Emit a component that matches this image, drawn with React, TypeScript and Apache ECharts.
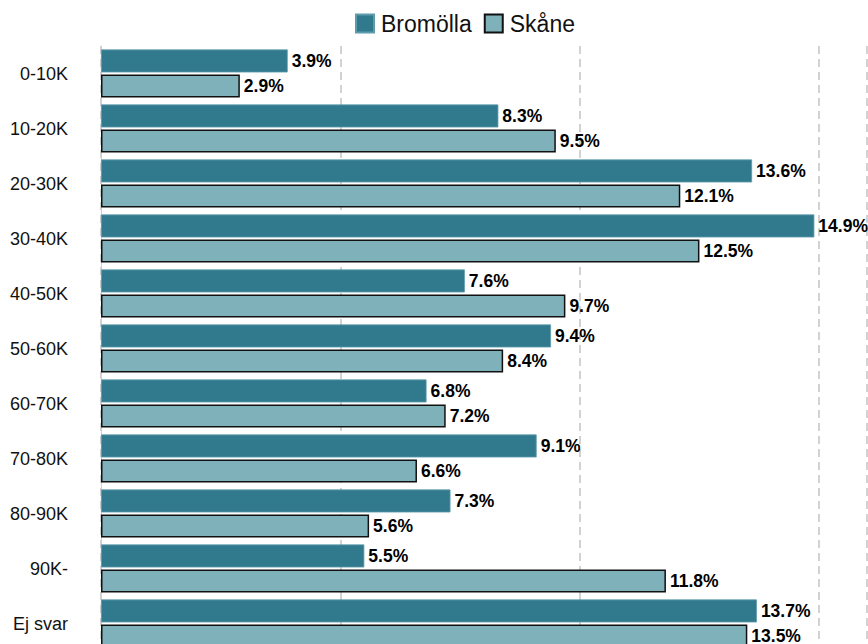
import React, { useEffect, useRef } from "react";
import * as echarts from "echarts";

const categories = ["0-10K", "10-20K", "20-30K", "30-40K", "40-50K", "50-60K", "60-70K", "70-80K", "80-90K", "90K-", "Ej svar"];
const bromolla = [3.9, 8.3, 13.6, 14.9, 7.6, 9.4, 6.8, 9.1, 7.3, 5.5, 13.7];
const skane = [2.9, 9.5, 12.1, 12.5, 9.7, 8.4, 7.2, 6.6, 5.6, 11.8, 13.5];
const seriesNames = ["Bromölla", "Skåne"];

export default function App() {
  const ref = useRef<HTMLDivElement>(null);
  useEffect(() => {
    if (!ref.current) return;
    const chart = echarts.init(ref.current, null, { renderer: "svg" });
    const font = "Liberation Sans, Arial, sans-serif";
    const labelStyle = {
      show: true,
      position: "right" as const,
      distance: 4,
      formatter: (p: any) => p.value.toFixed(1) + "%",
      color: "#000",
      fontWeight: "bold" as const,
      fontSize: 17.5,
      fontFamily: font,
    };
    chart.setOption({
      animation: false,
      textStyle: { fontFamily: font },
      legend: {
        top: 7,
        left: 350,
        icon: "rect",
        itemWidth: 18,
        itemHeight: 18,
        itemGap: 12,
        textStyle: { fontSize: 23, color: "#111", fontFamily: font, padding: [0, 0, 0, 2] },
        data: seriesNames,
      },
      grid: { left: 101, right: 1, top: 46, bottom: 49, containLabel: false },
      xAxis: {
        type: "value",
        min: 0,
        max: 16,
        interval: 5,
        axisLabel: { show: false },
        axisLine: { show: false },
        axisTick: { show: false },
        splitLine: { show: true, lineStyle: { color: "#c4c4c4", width: 1.5, type: [8, 5] } },
      },
      yAxis: {
        type: "category",
        inverse: true,
        data: categories,
        axisLine: { show: true, lineStyle: { color: "#d0d0d0", width: 1 } },
        axisTick: { show: false },
        axisLabel: { margin: 33, fontSize: 18, color: "#111", fontFamily: font },
      },
      series: [
        {
          name: seriesNames[0],
          type: "bar",
          data: bromolla,
          barWidth: 23,
          barGap: "9%",
          itemStyle: { color: "#317a8d", borderColor: "#5e9cad", borderWidth: 0.8 },
          label: labelStyle,
        },
        {
          name: seriesNames[1],
          type: "bar",
          data: skane,
          barWidth: 23,
          itemStyle: { color: "#7fb1ba", borderColor: "#111", borderWidth: 1.5 },
          label: labelStyle,
        },
      ],
    });
    return () => chart.dispose();
  }, []);
  return (
    <div style={{ position: "fixed", top: 0, left: 0, width: 868, height: 644, overflow: "hidden", background: "#fff" }}>
      <div ref={ref} style={{ width: 868, height: 700 }} />
    </div>
  );
}
